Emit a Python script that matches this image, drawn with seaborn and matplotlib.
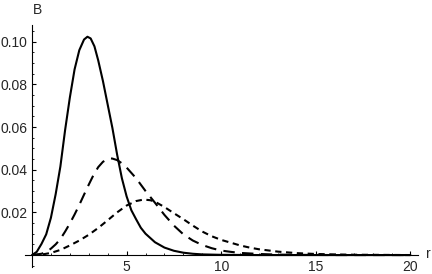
import numpy as np
import pandas as pd
import matplotlib
matplotlib.use("Agg")
import matplotlib.pyplot as plt
import seaborn as sns
from matplotlib.ticker import MultipleLocator, FixedLocator

# Data
r_solid = [0.0, 0.25, 0.5, 0.75, 1.0, 1.25, 1.5, 1.75, 2.0, 2.25, 2.5, 2.75, 2.93, 3.1, 3.3,
           3.5, 3.75, 4.0, 4.25, 4.5, 4.75, 5.0, 5.25, 5.5, 5.75, 6.0, 6.5, 7.0, 7.5, 8.0,
           8.5, 9.0, 10.0, 12.0, 20.0]
B_solid = [0.0, 0.0015, 0.0052, 0.0097, 0.0175, 0.0285, 0.0415, 0.0586, 0.0738, 0.0870, 0.0960,
           0.1010, 0.1023, 0.1015, 0.0978, 0.0912, 0.0815, 0.0705, 0.0595, 0.0470, 0.0360,
           0.0275, 0.0210, 0.0168, 0.0128, 0.0100, 0.0060, 0.0035, 0.0020, 0.0011, 0.0006,
           0.0003, 0.0001, 0.0, 0.0]

r_dash = [0.0, 0.5, 0.75, 1.0, 1.25, 1.5, 1.75, 2.0, 2.25, 2.5, 2.75, 3.0, 3.25, 3.5, 3.75,
          4.0, 4.13, 4.25, 4.5, 4.75, 5.0, 5.25, 5.5, 5.75, 6.0, 6.5, 7.0, 7.5, 8.0, 8.5,
          9.0, 9.5, 10.0, 10.5, 11.0, 12.0, 13.0, 14.0, 16.0, 20.0]
B_dash = [0.0, 0.0006, 0.0014, 0.0030, 0.0050, 0.0075, 0.0110, 0.0148, 0.0190, 0.0235, 0.0283,
          0.0330, 0.0375, 0.0412, 0.0437, 0.0450, 0.0453, 0.0452, 0.0445, 0.0430, 0.0410,
          0.0385, 0.0360, 0.0330, 0.0300, 0.0245, 0.0188, 0.0138, 0.0097, 0.0068, 0.0047,
          0.0032, 0.0021, 0.0015, 0.0010, 0.0005, 0.0002, 0.0001, 0.0, 0.0]

r_dot = [0.0, 0.5, 1.0, 1.5, 2.0, 2.5, 3.0, 3.5, 4.0, 4.5, 5.0, 5.5, 5.9, 6.25, 6.5, 7.0,
         7.5, 8.0, 8.5, 9.0, 9.5, 10.0, 10.5, 11.0, 11.5, 12.0, 13.0, 14.0, 15.0, 16.0,
         17.0, 18.0, 20.0]
B_dot = [0.0, 0.0002, 0.0010, 0.0024, 0.0045, 0.0068, 0.0095, 0.0127, 0.0163, 0.0200, 0.0232,
         0.0253, 0.0260, 0.0257, 0.0250, 0.0225, 0.0196, 0.0168, 0.0138, 0.0110, 0.0088,
         0.0071, 0.0058, 0.0045, 0.0035, 0.0027, 0.0016, 0.0009, 0.0005, 0.0003, 0.00015,
         0.0001, 0.0]

x_ticks = [5, 10, 15, 20]
x_labels = ["5", "10", "15", "20"]
y_ticks = [0.02, 0.04, 0.06, 0.08, 0.10]
y_labels = ["0.02", "0.04", "0.06", "0.08", "0.10"]

sns.set_style("white")
plt.rcParams['font.family'] = ['Liberation Sans', 'DejaVu Sans']

fig = plt.figure(figsize=(4.32, 2.74), dpi=100)
ax = fig.add_axes([25 / 432, 1 - 267 / 274, (418 - 25) / 432, (267 - 25) / 274])

sns.lineplot(x=r_solid, y=B_solid, ax=ax, color='black', lw=1.5, linestyle='-')
sns.lineplot(x=r_dash, y=B_dash, ax=ax, color='black', lw=1.5, linestyle=(0, (5.5, 3.5)))
sns.lineplot(x=r_dot, y=B_dot, ax=ax, color='black', lw=1.5, linestyle=(0, (3, 2.2)))

ax.set_xlim(-0.37, 20.4)
ax.set_ylim(-0.0056, 0.1078)

for s in ['top', 'right']:
    ax.spines[s].set_visible(False)
ax.spines['left'].set_position(('data', 0))
ax.spines['bottom'].set_position(('data', 0))
for s in ['left', 'bottom']:
    ax.spines[s].set_color('black')
    ax.spines[s].set_linewidth(0.8)

ax.xaxis.set_major_locator(FixedLocator(x_ticks))
ax.set_xticklabels(x_labels)
ax.yaxis.set_major_locator(FixedLocator(y_ticks))
ax.set_yticklabels(y_labels)
ax.xaxis.set_minor_locator(MultipleLocator(1))
ax.yaxis.set_minor_locator(MultipleLocator(0.005))

ax.tick_params(which='major', direction='in', length=3, width=0.8, color='black',
               labelsize=10, pad=3.5)
ax.tick_params(which='minor', direction='in', length=1.6, width=0.6, color='black')
ax.tick_params(axis='both', which='both', left=True, bottom=True)

ax.set_xlabel('')
ax.set_ylabel('')
fig.text(37 / 432, 1 - 10 / 274, 'B', fontsize=10, ha='center', va='center')
fig.text(428 / 432, 1 - 254 / 274, 'r', fontsize=10, ha='center', va='center')

fig.savefig('out.png', dpi=100)
